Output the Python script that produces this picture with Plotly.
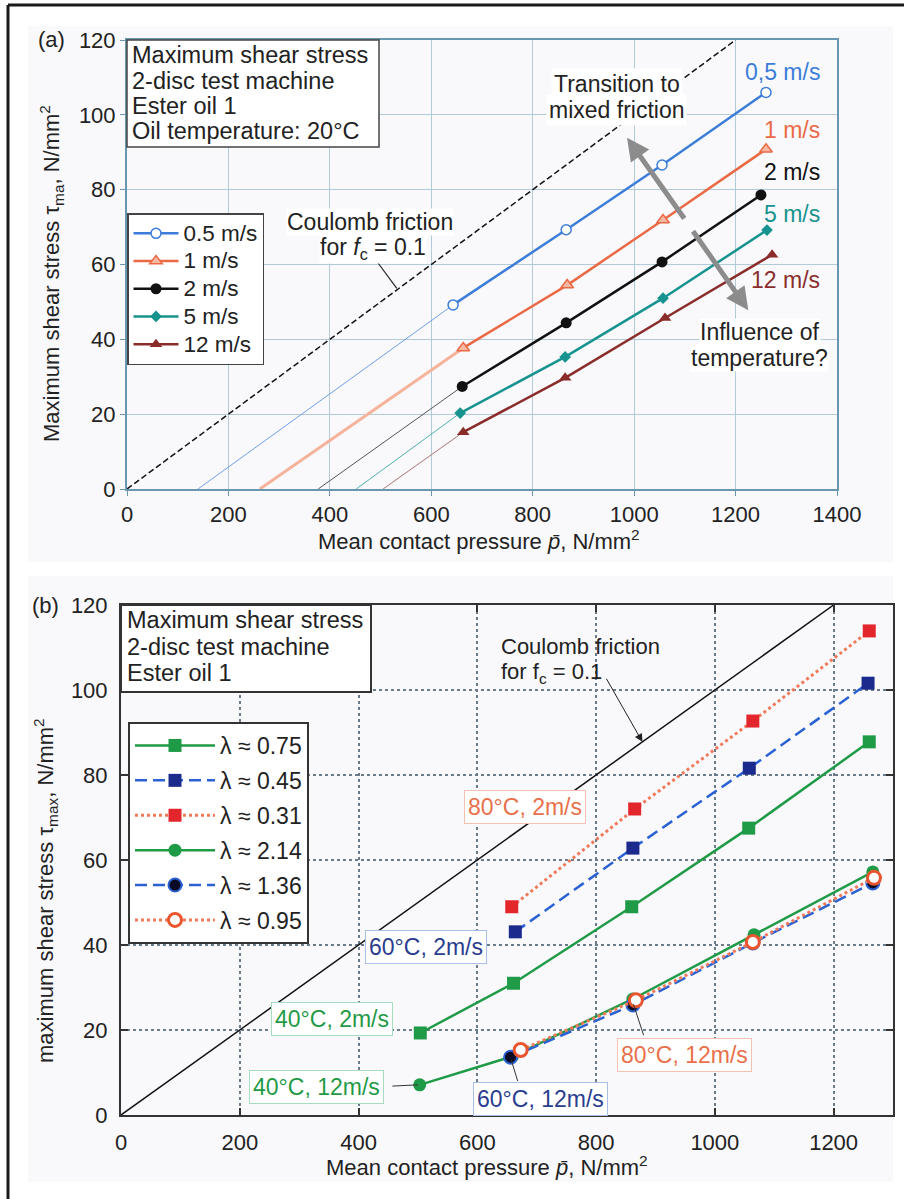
import plotly.graph_objects as go

W, H = 904, 1199
FONT = "Liberation Sans, Arial, sans-serif"
TXT = "#222222"

def px(x):
    return x / W

def py(y):
    return 1 - y / H

# ---------------- Panel (a) data ----------------
speed_labels_a = ["0.5 m/s", "1 m/s", "2 m/s", "5 m/s", "12 m/s"]
right_labels_a = ["0,5 m/s", "1 m/s", "2 m/s", "5 m/s", "12 m/s"]
p_a_05 = [643, 866, 1055, 1260]
t_a_05 = [49.2, 69.3, 86.6, 106.0]
p_a_1 = [663, 868, 1057, 1260]
t_a_1 = [37.7, 54.5, 71.9, 90.8]
p_a_2 = [661, 866, 1055, 1250]
t_a_2 = [27.4, 44.4, 60.7, 78.6]
p_a_5 = [657, 864, 1057, 1262]
t_a_5 = [20.3, 35.3, 51.0, 69.2]
p_a_12 = [663, 864, 1061, 1272]
t_a_12 = [15.2, 29.7, 45.7, 62.6]
intercepts_a = [140, 262, 377, 452, 505]   # extrapolated zero-stress pressures
coulomb_p = [0, 1200]
coulomb_t = [0, 120]
xticks_a = [0, 200, 400, 600, 800, 1000, 1200, 1400]
yticks = [0, 20, 40, 60, 80, 100, 120]

# ---------------- Panel (b) data ----------------
lambda_labels = ["λ ≈ 0.75", "λ ≈ 0.45", "λ ≈ 0.31", "λ ≈ 2.14", "λ ≈ 1.36", "λ ≈ 0.95"]
case_labels = ["40°C, 2m/s", "60°C, 2m/s", "80°C, 2m/s", "40°C, 12m/s", "60°C, 12m/s", "80°C, 12m/s"]
p_b_075 = [504, 661, 860, 1057, 1260]
t_b_075 = [19.3, 31.0, 49.0, 67.5, 87.8]
p_b_045 = [664, 862, 1058, 1258]
t_b_045 = [43.1, 62.8, 81.6, 101.6]
p_b_031 = [658, 865, 1064, 1260]
t_b_031 = [49.0, 72.0, 92.7, 113.9]
p_b_214 = [503, 659, 862, 1066, 1266]
t_b_214 = [7.1, 13.8, 27.3, 42.4, 57.2]
p_b_136 = [656, 862, 1064, 1266]
t_b_136 = [13.6, 25.9, 40.5, 54.6]
p_b_095 = [673, 867, 1064, 1268]
t_b_095 = [15.3, 27.0, 40.7, 55.8]
xticks_b = [0, 200, 400, 600, 800, 1000, 1200]

fig = go.Figure()

# ---------------- Panel (a) traces ----------------
fig.add_trace(go.Scatter(x=coulomb_p, y=coulomb_t, mode="lines", xaxis="x", yaxis="y",
                         line=dict(color="#111111", width=1.5, dash="6px,3px"), showlegend=False))

series_a = [
    (p_a_05, t_a_05, dict(color="#3b7dd8", width=2.5), dict(symbol="circle", size=10, color="white", line=dict(color="#3b7dd8", width=1.5)), dict(color="#6ea0e6", width=1)),
    (p_a_1, t_a_1, dict(color="#ea6a45", width=2.5), dict(symbol="triangle-up", size=11, color="#f6b8a2", line=dict(color="#ea6a45", width=1.5)), dict(color="#f6b39c", width=3)),
    (p_a_2, t_a_2, dict(color="#111111", width=2.5), dict(symbol="circle", size=11, color="#111111"), dict(color="#555555", width=1)),
    (p_a_5, t_a_5, dict(color="#16938f", width=2.5), dict(symbol="diamond", size=9, color="#16938f"), dict(color="#4fb0ad", width=1)),
    (p_a_12, t_a_12, dict(color="#8a2d2a", width=2.5), dict(symbol="triangle-up", size=11, color="#8a2d2a"), dict(color="#a97572", width=1)),
]
for (xs, ys, ln, mk, ext), x0 in zip(series_a, intercepts_a):
    fig.add_trace(go.Scatter(x=[x0, xs[0]], y=[0, ys[0]], mode="lines", xaxis="x", yaxis="y",
                             line=ext, showlegend=False, hoverinfo="skip"))
for (xs, ys, ln, mk, ext), name in zip(series_a, speed_labels_a):
    fig.add_trace(go.Scatter(x=xs, y=ys, mode="lines+markers", xaxis="x", yaxis="y",
                             name='<span style="font-size:22.5px">%s</span>' % name,
                             line=ln, marker=mk, legend="legend"))

# ---------------- Panel (b) traces ----------------
fig.add_trace(go.Scatter(x=coulomb_p, y=coulomb_t, mode="lines", xaxis="x2", yaxis="y2",
                         line=dict(color="#111111", width=1.5), showlegend=False))

GREEN = "#1f9a46"
series_b = [
    (p_b_075, t_b_075, dict(color=GREEN, width=2.5), dict(symbol="square", size=13, color=GREEN)),
    (p_b_045, t_b_045, dict(color="#2a62d4", width=2.5, dash="12px,6px"), dict(symbol="square", size=13, color="#1b2a8c")),
    (p_b_031, t_b_031, dict(color="#f07a5a", width=3, dash="dot"), dict(symbol="square", size=13, color="#e3262b")),
    (p_b_214, t_b_214, dict(color=GREEN, width=2.5), dict(symbol="circle", size=13, color=GREEN)),
    (p_b_136, t_b_136, dict(color="#2a62d4", width=2.5, dash="12px,6px"), dict(symbol="circle", size=13, color="#0a0a25", line=dict(color="#2a62d4", width=2))),
    (p_b_095, t_b_095, dict(color="#f07a5a", width=3, dash="dot"), dict(symbol="circle", size=13, color="white", line=dict(color="#e8552e", width=3))),
]
for i, ((xs, ys, ln, mk), name) in enumerate(zip(series_b, lambda_labels)):
    fig.add_trace(go.Scatter(x=xs, y=ys, mode="lines+markers", name=name, xaxis="x2", yaxis="y2",
                             line=ln, marker=mk, legend="legend2", legendgroup="g%d" % i))

# ---------------- Shapes ----------------
shapes = []
shapes.append(dict(type="rect", xref="paper", yref="paper", x0=px(28), x1=px(893), y0=py(562), y1=py(26),
                   fillcolor="#f9f9fc", line=dict(width=0), layer="below"))
shapes.append(dict(type="rect", xref="paper", yref="paper", x0=px(28), x1=px(893), y0=py(1182), y1=py(576),
                   fillcolor="#f9f9fc", line=dict(width=0), layer="below"))
# outer frame (left + top)
shapes.append(dict(type="line", xref="paper", yref="paper", x0=px(8), x1=1.0, y0=py(5), y1=py(5),
                   line=dict(color="#1a1a1a", width=3)))
shapes.append(dict(type="line", xref="paper", yref="paper", x0=px(8), x1=px(8), y0=py(5), y1=0,
                   line=dict(color="#1a1a1a", width=3)))
# info boxes
shapes.append(dict(type="rect", xref="paper", yref="paper", x0=px(127), x1=px(379), y0=py(147), y1=py(40),
                   fillcolor="white", line=dict(color="#444444", width=1.5), layer="above"))
shapes.append(dict(type="rect", xref="paper", yref="paper", x0=px(121), x1=px(371), y0=py(692), y1=py(605),
                   fillcolor="white", line=dict(color="#333333", width=2), layer="above"))
# leader lines
shapes.append(dict(type="line", xref="x", yref="y", x0=495, y0=60.4, x1=532, y1=53.6,
                   line=dict(color="#222222", width=1.2)))
shapes.append(dict(type="line", xref="x2", yref="y2", x0=457, y0=6.8, x1=500, y1=7.1,
                   line=dict(color="#333333", width=1)))
shapes.append(dict(type="line", xref="x2", yref="y2", x0=668, y0=8.0, x1=657, y1=13.0,
                   line=dict(color="#333333", width=1)))
shapes.append(dict(type="line", xref="x2", yref="y2", x0=880, y0=18.8, x1=863, y1=26.0,
                   line=dict(color="#333333", width=1)))

ann = []

def text(x, y, s, xref="paper", yref="paper", size=23, color=TXT, xanchor="center", bg=None, **kw):
    d = dict(x=x, y=y, text=s, xref=xref, yref=yref, showarrow=False, xanchor=xanchor, yanchor="middle",
             font=dict(family=FONT, size=size, color=color))
    if bg:
        d["bgcolor"] = bg
    d.update(kw)
    ann.append(d)

text(px(51), py(40), "(a)", size=22)
text(px(45), py(605), "(b)", size=22)
for yy, s in zip([55, 81, 106, 131], ["Maximum shear stress", "2-disc test machine", "Ester oil 1", "Oil temperature: 20°C"]):
    text(px(130), py(yy), s, xanchor="left", size=23.5)
for yy, s in zip([620, 647, 673], ["Maximum shear stress", "2-disc test machine", "Ester oil 1"]):
    text(px(125), py(yy), s, xanchor="left", size=23.5)

text(px(51), py(274), "Maximum shear stress τ<sub>ma</sub>, N/mm<sup>2</sup>", size=22, textangle=-90)
text(px(45), py(891), "maximum shear stress τ<sub>max</sub>, N/mm<sup>2</sup>", size=22, textangle=-90)
text(px(479), py(540), "Mean contact pressure <i>p̄</i>, N/mm<sup>2</sup>", size=22)
text(px(487), py(1166), "Mean contact pressure <i>p̄</i>, N/mm<sup>2</sup>", size=22)

text(479, 71.4, "Coulomb friction", xref="x", yref="y", bg="white", borderpad=0)
text(485, 64.4, "for <i>f</i><sub>c</sub> = 0.1", xref="x", yref="y", bg="white", borderpad=0)
text(966, 108.3, "Transition to", xref="x", yref="y", bg="white", borderpad=2)
text(966, 101.3, "mixed friction", xref="x", yref="y", bg="white", borderpad=2)
text(1248, 42.0, "Influence of", xref="x", yref="y", bg="white", borderpad=0)
text(1248, 35.0, "temperature?", xref="x", yref="y", bg="white", borderpad=0)
label_cols = ["#3b7dd8", "#ea6a45", "#111111", "#16938f", "#8a2d2a"]
label_ys = [111.5, 96.0, 84.8, 73.5, 55.9]
for s, c, yy in zip(right_labels_a, label_cols, label_ys):
    text(1370, yy, s, xref="x", yref="y", color=c, xanchor="right")

# gray double arrow (two halves)
ann.append(dict(x=986, y=93.9, ax=1101, ay=71.9, xref="x", yref="y", axref="x", ayref="y", text="",
                showarrow=True, arrowhead=2, arrowsize=0.9, arrowwidth=5, arrowcolor="#8c8c8c"))
ann.append(dict(x=1225, y=47.8, ax=1114, ay=69.3, xref="x", yref="y", axref="x", ayref="y", text="",
                showarrow=True, arrowhead=2, arrowsize=0.9, arrowwidth=5, arrowcolor="#8c8c8c"))

text(636, 110.3, "Coulomb friction", xref="x2", yref="y2", xanchor="left", size=22)
text(636, 104.0, "for f<sub>c</sub> = 0.1", xref="x2", yref="y2", xanchor="left", size=22)
ann.append(dict(x=878, y=87.8, ax=816, ay=103.0, xref="x2", yref="y2", axref="x2", ayref="y2", text="",
                showarrow=True, arrowhead=2, arrowsize=1.6, arrowwidth=1, arrowcolor="#222222"))

case_pos = [(356, 22.6), (514, 39.5), (681, 72.5), (330, 6.6), (707, 3.8), (949, 14.1)]
case_txt = ["#1f9a46", "#2a3d8f", "#e8704a", "#1f9a46", "#2a3d8f", "#e8704a"]
case_brd = ["#a8dcc0", "#a8c0e8", "#f5c2b2", "#a8dcc0", "#a8c0e8", "#f5c2b2"]
for s, (xx, yy), tc, bc in zip(case_labels, case_pos, case_txt, case_brd):
    text(xx, yy, s, xref="x2", yref="y2", color=tc, bg="white", bordercolor=bc, borderwidth=1, borderpad=3)

axis_a = dict(showgrid=True, gridcolor="#b3cad8", gridwidth=1, showline=True, linecolor="#6a97b0",
              linewidth=2, mirror=True, ticks="outside", ticklen=5, tickcolor="#6a97b0",
              tickfont=dict(family=FONT, size=22, color=TXT), zeroline=False, automargin=False)
axis_b = dict(showgrid=True, gridcolor="#6b7b8c", gridwidth=1.5, griddash="dot", showline=True,
              linecolor="#333333", linewidth=2, mirror="ticks", ticks="inside", ticklen=7, tickwidth=1.5,
              tickcolor="#333333", tickfont=dict(family=FONT, size=22, color=TXT), zeroline=False,
              ticklabelstandoff=7, automargin=False)

fig.update_layout(
    width=W, height=H, margin=dict(l=0, r=0, t=0, b=0, pad=0), autosize=False,
    paper_bgcolor="white", plot_bgcolor="white",
    font=dict(family=FONT, size=22, color=TXT),
    xaxis=dict(domain=[px(127), px(837)], range=[0, 1400], tickvals=xticks_a, anchor="y", **axis_a),
    yaxis=dict(domain=[py(489), py(40)], range=[0, 120], tickvals=yticks, anchor="x", **axis_a),
    xaxis2=dict(domain=[px(121), px(893)], range=[0, 1300], tickvals=xticks_b, anchor="y2", **axis_b),
    yaxis2=dict(domain=[py(1115), py(605)], range=[0, 120], tickvals=yticks, anchor="x2", **axis_b),
    legend=dict(x=px(127), y=py(213), xanchor="left", yanchor="top", bgcolor="white",
                bordercolor="#444444", borderwidth=1.5, font=dict(family=FONT, size=19, color=TXT),
                tracegroupgap=0, itemwidth=45),
    legend2=dict(x=px(128), y=py(722), xanchor="left", yanchor="top", bgcolor="white",
                 bordercolor="#333333", borderwidth=2, font=dict(family=FONT, size=23, color=TXT),
                 tracegroupgap=2, itemwidth=80),
    shapes=shapes,
    annotations=ann,
    showlegend=True,
)

fig.write_html("out.html", config=dict(displayModeBar=False),
               post_script="document.body.style.margin='0';document.body.style.overflow='hidden';")
